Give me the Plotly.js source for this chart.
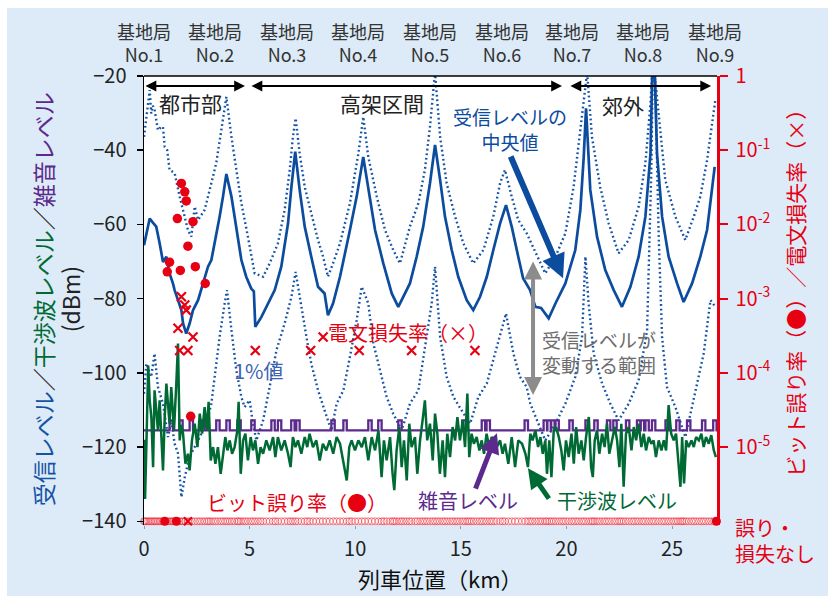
<!DOCTYPE html>
<html><head><meta charset="utf-8">
<script src="https://cdn.plot.ly/plotly-3.0.1.min.js"></script>
<style>html,body{margin:0;padding:0;background:#fff;}#chart{position:absolute;left:7px;top:8px;width:821px;height:588px;}</style>
</head><body><div id="chart"></div><script>
// ---------- data ----------
const stationKm = [0, 3.37, 6.77, 10.13, 13.54, 16.95, 20.27, 23.63, 27.03];
const stationName = ["基地局","基地局","基地局","基地局","基地局","基地局","基地局","基地局","基地局"];
const stationNo = ["No.1","No.2","No.3","No.4","No.5","No.6","No.7","No.8","No.9"];

const medianKm = [0.00,0.27,0.42,0.58,0.74,0.90,1.06,1.21,1.37,1.45,1.61,1.77,1.85,2.00,2.16,2.32,2.56,2.79,3.03,3.19,3.35,3.58,3.74,3.90,4.14,4.30,4.45,4.61,4.84,5.08,5.20,5.27,5.56,5.87,6.19,6.50,6.82,6.98,7.16,7.37,7.61,7.92,8.24,8.55,8.71,8.95,9.28,9.75,10.07,10.38,10.62,10.94,11.33,11.73,12.04,12.28,12.59,12.91,13.22,13.54,13.78,14.02,14.25,14.57,14.88,15.28,15.59,15.91,16.23,16.54,16.86,17.14,17.41,17.72,17.95,18.28,18.53,18.80,19.00,19.16,19.48,19.95,20.42,20.66,20.82,20.93,21.13,21.45,21.84,22.24,22.63,23.03,23.42,23.74,23.98,24.08,24.16,24.29,24.53,24.84,25.24,25.55,25.95,26.34,26.66,27.02];
const medianDb = [-65.6,-58.4,-59.5,-60.6,-65.1,-70.1,-68.7,-73.2,-75.9,-77.7,-80.4,-83.1,-86.7,-89.4,-86.7,-83.1,-80.4,-75.9,-71.4,-69.6,-65.1,-57.9,-52.5,-46.4,-52.5,-58.8,-63.3,-69.6,-74.1,-77.3,-78.0,-87.6,-84.9,-81.3,-77.7,-71.4,-59.7,-49.9,-40.4,-50.7,-60.6,-68.7,-76.8,-78.6,-84.5,-81.3,-74.1,-61.5,-52.5,-41.8,-50.7,-61.5,-70.5,-78.6,-82.2,-79.5,-75.9,-68.7,-60.6,-48.9,-38.6,-48.0,-57.9,-66.9,-74.1,-80.4,-83.1,-79.5,-74.1,-66.9,-59.7,-54.8,-60.6,-68.7,-74.5,-77.7,-82.2,-82.5,-84.0,-85.3,-81.3,-75.9,-66.9,-56.1,-41.8,-28.7,-50.7,-63.3,-72.3,-77.7,-82.2,-76.8,-68.7,-57.9,-40.9,-15,-15,-40.9,-57.9,-68.7,-75.9,-80.9,-75.9,-68.7,-61.5,-44.5];

const upperKm = [0.00,0.27,0.34,0.42,0.50,0.66,0.82,0.90,0.98,1.10,1.21,1.45,1.69,1.93,2.08,2.24,2.40,2.56,2.87,3.11,3.42,3.66,3.90,4.14,4.37,4.61,4.92,5.24,5.48,5.64,5.95,6.34,6.66,6.90,7.05,7.18,7.37,7.61,7.92,8.24,8.48,8.71,8.95,9.28,9.75,10.15,10.38,10.62,11.02,11.41,11.80,12.12,12.59,12.99,13.30,13.54,13.78,14.02,14.33,14.73,15.12,15.59,16.07,16.54,16.86,17.09,17.41,17.72,18.12,18.53,19.00,19.48,19.95,20.34,20.58,20.82,20.98,21.21,21.60,22.00,22.47,22.95,23.42,23.74,23.98,24.10,24.37,24.68,25.16,25.63,26.03,26.34,26.66,27.05];
const upperDb = [-36.4,-23.8,-30.1,-28.0,-29.0,-34.6,-33.7,-33.7,-39.1,-40.0,-45.3,-46.2,-52.5,-57.9,-61.5,-63.3,-55.2,-58.8,-56.1,-50.7,-43.5,-34.6,-25.6,-36.4,-45.3,-54.3,-63.3,-73.2,-73.7,-74.1,-70.5,-65.1,-56.1,-45.3,-36.4,-31.4,-40.9,-49.9,-57.0,-64.2,-68.7,-74.1,-70.5,-65.1,-54.3,-40.9,-31.0,-41.8,-52.5,-61.5,-66.9,-70.5,-60.6,-54.3,-45.3,-33.7,-19,-36.4,-48.9,-57.9,-65.1,-70.5,-66.9,-57.9,-48.9,-45.3,-52.5,-58.8,-62.4,-67.4,-73.2,-68.7,-62.4,-49.9,-38.2,-25.6,-19,-36.4,-49.9,-59.7,-67.8,-64.2,-55.2,-43.5,-27.4,-15,-30.1,-48.0,-57.9,-64.2,-57.9,-52.5,-42.7,-26.5];

const lowerKm = [0.00,0.11,0.34,0.50,0.66,0.90,1.14,1.29,1.45,1.61,1.77,1.93,2.08,2.24,2.48,2.71,2.95,3.19,3.35,3.58,3.82,3.93,4.14,4.37,4.61,4.76,5.00,5.16,5.32,5.64,5.95,6.27,6.66,6.98,7.18,7.37,7.69,7.92,8.24,8.55,8.87,9.12,9.44,9.75,10.07,10.31,10.62,10.86,11.17,11.49,11.80,12.20,12.59,12.99,13.38,13.62,13.78,14.02,14.33,14.65,15.04,15.44,15.83,16.23,16.62,16.94,17.14,17.49,17.80,18.12,18.29,18.61,19.00,19.48,19.95,20.42,20.74,20.90,21.05,21.29,21.69,22.08,22.47,22.95,23.42,23.82,24.02,24.10,24.20,24.37,24.53,24.76,25.16,25.63,26.03,26.50,26.82,27.05];
const lowerDb = [-105.6,-97.5,-101.1,-94.8,-103.8,-108.3,-117.3,-112.8,-119.1,-121.7,-133.5,-128.1,-124.5,-121.7,-119.1,-116.4,-113.7,-108.3,-101.1,-90.3,-81.3,-77.7,-88.5,-99.3,-106.5,-109.2,-107.4,-113.7,-118.2,-112.8,-103.8,-93.9,-86.7,-79.5,-72.8,-79.5,-90.3,-97.5,-104.7,-110.1,-115.5,-108.3,-104.7,-95.7,-85.8,-76.8,-81.3,-92.1,-99.3,-106.5,-111.0,-115.5,-108.3,-104.7,-90.3,-81.3,-71.4,-90.3,-101.1,-106.5,-110.1,-113.7,-106.5,-102.9,-94.8,-88.5,-84.0,-94.8,-101.1,-103.8,-108.3,-112.8,-118.2,-113.7,-108.3,-101.1,-90.3,-68.7,-81.3,-94.8,-102.9,-108.3,-112.8,-108.3,-102.0,-88.5,-45.3,-15,-20,-63.3,-90.3,-103.8,-109.2,-117.3,-106.5,-94.8,-80.4,-82.2];

const interfKm = [0.00,0.05,0.12,0.20,0.27,0.35,0.43,0.50,0.58,0.66,0.74,0.82,0.90,0.98,1.06,1.13,1.21,1.29,1.36,1.42,1.53,1.61,1.69,1.77,1.85,1.96,2.08,2.16,2.27,2.40,2.53,2.64,2.75,2.87,2.98,3.06,3.16,3.27,3.38,3.50,3.63,3.74,3.85,3.95,4.06,4.17,4.29,4.42,4.48,4.58,4.69,4.80,4.92,5.05,5.16,5.27,5.40,5.52,5.64,5.79,5.95,6.11,6.22,6.34,6.50,6.66,6.82,6.94,7.05,7.17,7.29,7.45,7.61,7.73,7.84,8.00,8.16,8.32,8.47,8.63,8.79,8.96,9.12,9.28,9.44,9.60,9.72,9.83,9.99,10.15,10.31,10.46,10.62,10.78,10.94,11.10,11.25,11.36,11.49,11.65,11.77,11.85,11.96,12.09,12.20,12.31,12.44,12.56,12.67,12.83,12.94,13.07,13.19,13.30,13.41,13.54,13.67,13.78,13.89,14.01,14.14,14.25,14.36,14.49,14.61,14.73,14.84,14.96,15.09,15.20,15.31,15.40,15.51,15.62,15.75,15.88,15.99,16.10,16.22,16.35,16.46,16.57,16.70,16.86,16.98,17.09,17.25,17.41,17.57,17.72,17.90,18.06,18.18,18.29,18.40,18.53,18.66,18.77,18.88,19.00,19.08,19.19,19.29,19.40,19.51,19.64,19.76,19.87,19.98,20.11,20.24,20.35,20.46,20.58,20.71,20.82,20.93,21.06,21.17,21.25,21.34,21.45,21.56,21.69,21.81,21.92,22.03,22.16,22.29,22.40,22.51,22.60,22.71,22.82,22.95,23.08,23.19,23.30,23.42,23.55,23.66,23.77,23.90,24.02,24.13,24.24,24.37,24.50,24.61,24.72,24.84,24.96,25.08,25.19,25.29,25.40,25.48,25.57,25.67,25.79,25.92,26.03,26.14,26.27,26.39,26.50,26.61,26.74,26.86,26.98,27.08];
const interfDb = [-118,-134,-118,-98,-107.4,-112,-125.4,-104.7,-110,-115.5,-107.4,-118,-126.3,-112,-102.9,-108,-113.7,-103.8,-110,-115.5,-102.9,-92.1,-118.2,-114,-116.4,-124.5,-121.8,-126.3,-118.2,-113.7,-120,-111,-116.4,-109.2,-115.5,-107.8,-123.6,-120,-124.5,-120,-127.2,-121.8,-117.3,-120.9,-118.2,-121.8,-120,-115.5,-107.8,-127.2,-118.2,-116.4,-123.6,-117.3,-120.9,-118.2,-124.5,-120,-121.8,-118.2,-120.9,-117.3,-122.7,-117.3,-120.9,-118.2,-121.8,-125.4,-117.3,-120,-118.2,-121.8,-117.3,-120,-116.4,-120,-118.2,-123.6,-119.1,-120.9,-118.2,-121.8,-117.3,-119.1,-123.6,-129,-120,-118.2,-120.9,-118.2,-120,-117.3,-123.6,-117.3,-120.9,-115.5,-128.1,-118.2,-123.6,-117.3,-127.2,-131.6,-120.9,-114.6,-125.4,-118.2,-129,-113.7,-120,-117.3,-127.2,-118.2,-112.8,-107.4,-118.2,-113.7,-123.6,-111,-116.4,-127.2,-118.2,-128.1,-116.4,-122.7,-114.6,-118.2,-111.9,-118.2,-112.8,-120,-105.6,-122.7,-116.4,-119.1,-117.3,-120.9,-118.2,-121.8,-116.4,-120,-117.3,-118.2,-120,-118.2,-121.8,-119.1,-124.5,-117.3,-125.4,-118.2,-119.1,-121.8,-125.4,-116.4,-118.2,-115.5,-120,-117.3,-121.8,-118.2,-127.2,-118.2,-128.1,-115.5,-114.6,-117.3,-120.9,-126.3,-118.2,-122.7,-116.4,-124.5,-114.6,-121.8,-118.2,-123.6,-117.3,-111.9,-125.4,-128.1,-118.2,-115.5,-121.8,-116.4,-120,-113.7,-121.8,-118.2,-114.6,-118.2,-125.4,-113.7,-130.7,-116.4,-114.6,-120.9,-114.6,-118.2,-113.7,-120,-116.4,-120.9,-117.3,-119.1,-118.2,-122.7,-118.2,-120.9,-118.2,-120.9,-108.7,-116.4,-118.2,-116.4,-122.7,-130.7,-117.3,-129.8,-118.2,-120,-118.2,-120,-117.3,-118.2,-116.4,-120,-117.3,-119.1,-116.8,-120.9,-122.7];

const noiseKm = [0,1.21,1.37,1.67,1.83,2.16,2.32,2.71,2.87,3.42,3.58,3.90,4.06,4.42,4.58,5.08,5.24,6.03,6.19,6.34,6.50,6.97,7.13,7.21,7.37,8.87,9.03,9.44,9.60,10.62,10.78,11.09,11.25,12.04,12.20,15.07,15.23,15.99,16.15,16.22,16.38,18.02,18.18,18.92,19.08,19.10,19.26,19.28,19.44,19.48,19.64,20.14,20.30,20.90,21.06,21.32,21.48,21.92,22.08,22.22,22.38,22.82,22.98,23.34,23.50,23.52,23.68,23.74,23.90,24.05,24.21,24.69,24.85,25.20,25.36,25.71,25.87,26.42,26.58,26.95,27.11,27.13];
const noiseDb = [-115.5,-112.8,-115.5,-112.8,-115.5,-112.8,-115.5,-112.8,-115.5,-112.8,-115.5,-112.8,-115.5,-112.8,-115.5,-112.8,-115.5,-112.8,-115.5,-112.8,-115.5,-112.8,-115.5,-112.8,-115.5,-112.8,-115.5,-112.8,-115.5,-112.8,-115.5,-112.8,-115.5,-112.8,-115.5,-112.8,-115.5,-112.8,-115.5,-112.8,-115.5,-112.8,-115.5,-112.8,-115.5,-112.8,-115.5,-112.8,-115.5,-112.8,-115.5,-112.8,-115.5,-112.8,-115.5,-112.8,-115.5,-112.8,-115.5,-112.8,-115.5,-112.8,-115.5,-112.8,-115.5,-112.8,-115.5,-112.8,-115.5,-112.8,-115.5,-112.8,-115.5,-112.8,-115.5,-112.8,-115.5,-112.8,-115.5,-112.8,-115.5,-115.5];

const berKm = [1.77,1.93,2.00,1.58,2.32,2.08,1.21,1.10,1.72,2.43,2.90,2.21];
const berRate = [3.57e-2,2.75e-2,2.07e-2,1.2e-2,1.09e-2,5.1e-3,3.1e-3,2.3e-3,2.4e-3,2.7e-3,1.6e-3,2.6e-5];
const lossKm = [1.77,1.93,2.00,1.61,2.32,1.69,2.08,5.27,7.89,8.48,10.19,12.67,15.67];
const lossRate = [1.06e-3,8.2e-4,7.0e-4,4.0e-4,3.05e-4,2.0e-4,2.0e-4,2.0e-4,2.0e-4,3.05e-4,2.0e-4,2.0e-4,2.0e-4];
const noErrKm = interfKm;            // samples with no error / no loss
const noErrLevel = 1e-6;             // plotted on the "誤り・損失なし" floor
const floorDotKm = [0.98, 1.53, 27.10];
const floorCrossKm = [2.08];

const yTicks = [-140,-120,-100,-80,-60,-40,-20];
const xTicks = [0,5,10,15,20,25];
const rTicks = [1e-5,1e-4,1e-3,1e-2,1e-1,1];
const rTickText = ["10<sup>-5</sup>","10<sup>-4</sup>","10<sup>-3</sup>","10<sup>-2</sup>","10<sup>-1</sup>","1"];

// ---------- styles ----------
const RED = "#e60012", BLUE = "#0c4c9e", DBLUE = "#1553a6", GREEN = "#006a35", PURPLE = "#5b2a8c", GRAY = "#8c8c8c";
const FONT = "Noto Sans CJK JP, Noto Sans, sans-serif";

const traces = [
  {x: upperKm, y: upperDb, mode: "lines", line: {color: DBLUE, width: 2.4, dash: "1.8px,2.8px"}},
  {x: lowerKm, y: lowerDb, mode: "lines", line: {color: DBLUE, width: 2.4, dash: "1.8px,2.8px"}},
  {x: medianKm, y: medianDb, mode: "lines", line: {color: BLUE, width: 2.7}},
  {x: noiseKm, y: noiseDb, mode: "lines", line: {color: PURPLE, width: 2.3, shape: "hv"}},
  {x: interfKm, y: interfDb, mode: "lines", line: {color: GREEN, width: 2.5}},
  {x: noErrKm, y: noErrKm.map(() => noErrLevel), yaxis: "y2", mode: "markers", cliponaxis: false,
   marker: {symbol: "circle-open", size: 7, color: RED, opacity: 0.55, line: {width: 0.8, color: RED}}},
  {x: floorDotKm, y: floorDotKm.map(() => noErrLevel), yaxis: "y2", mode: "markers", cliponaxis: false,
   marker: {symbol: "circle", size: 9, color: RED}},
  {x: floorCrossKm, y: floorCrossKm.map(() => noErrLevel), yaxis: "y2", mode: "markers", cliponaxis: false,
   marker: {symbol: "x-thin-open", size: 8, color: RED, line: {width: 2, color: RED}}},
  {x: lossKm, y: lossRate, yaxis: "y2", mode: "markers",
   marker: {symbol: "x-thin-open", size: 9, color: RED, line: {width: 2.2, color: RED}}},
  {x: berKm, y: berRate, yaxis: "y2", mode: "markers",
   marker: {symbol: "circle", size: 9.5, color: RED}}
];

function txt(text, x, y, color, size, extra) {
  return Object.assign({text: text, x: x, y: y, xref: "x", yref: "y", showarrow: false,
    xanchor: "center", yanchor: "middle",
    font: {family: FONT, size: size, color: color}}, extra || {});
}
function ptxt(text, x, y, color, size, extra) {
  return Object.assign({text: text, x: x, y: y, xref: "paper", yref: "paper", showarrow: false,
    xanchor: "center", yanchor: "middle",
    font: {family: FONT, size: size, color: color}}, extra || {});
}
function arrow(x, y, ax, ay, color, w, size, both) {
  const a = {text: "", x: x, y: y, ax: ax, ay: ay, xref: "x", yref: "y", axref: "x", ayref: "y",
    showarrow: true, arrowhead: 2, arrowsize: size, arrowwidth: w, arrowcolor: color, standoff: 0, startstandoff: 0};
  if (both) { a.arrowside = "end+start"; a.startarrowhead = 2; a.startarrowsize = size; }
  return a;
}

const ann = [];
stationKm.forEach((k, i) => {
  ann.push({text: stationName[i] + "<br>" + stationNo[i], x: k, xref: "x", y: 1.0735, yref: "paper", showarrow: false,
    xanchor: "center", yanchor: "middle", font: {family: FONT, size: 18, color: "#333"}});
});
// region arrows & labels
ann.push(arrow(4.78, -22.7, 0, -22.7, "#000", 1.8, 1.2, true));
ann.push(arrow(19.79, -22.7, 5.02, -22.7, "#000", 1.8, 1.2, true));
ann.push(arrow(26.85, -22.7, 20.12, -22.7, "#000", 1.8, 1.2, true));
ann.push(txt("都市部", 2.18, -27.3, "#222", 21));
ann.push(txt("高架区間", 11.27, -27.3, "#222", 21));
ann.push(txt("郊外", 22.68, -27.8, "#222", 21));
// callouts
ann.push(txt("受信レベルの<br>中央値", 17.33, -34.4, BLUE, 19));
ann.push(arrow(19.84, -74.5, 17.33, -41.3, BLUE, 6, 0.8, false));
ann.push(txt("1%値", 5.45, -99.3, "#3d62b0", 20));
ann.push(txt("電文損失率（×）", 12.5, -89.0, RED, 20));
ann.push(txt("ビット誤り率（●）", 7.24, -134.9, RED, 20));
ann.push(txt("雑音レベル", 15.34, -134.3, PURPLE, 20));
ann.push(txt("干渉波レベル", 22.4, -134.3, GREEN, 20));
ann.push(arrow(16.71, -116.3, 15.67, -131.6, PURPLE, 5, 0.8, false));
ann.push(arrow(18.18, -125.7, 19.22, -134.3, GREEN, 5, 0.8, false));
ann.push(arrow(18.42, -106.0, 18.42, -69.6, GRAY, 4, 0.9, true));
ann.push(txt("受信レベルが<br>変動する範囲", 18.75, -94.4, "#6d6d6d", 19, {xanchor: "left", align: "left"}));
// axis titles
ann.push(ptxt('<span style="color:#1553a6">受信レベル</span>／<span style="color:#006a35">干渉波レベル</span>／<span style="color:#5b2a8c">雑音レベル</span>',
  -0.176, 0.503, "#222", 23, {textangle: -90}));
ann.push(ptxt("(dBm)", -0.129, 0.503, "#222", 23, {textangle: -90}));
ann.push(ptxt("ビット誤り率（●）／電文損失率（×）", 1.136, 0.528, RED, 21, {textangle: -90}));
ann.push(ptxt("誤り・<br>損失なし", 1.028, -0.034, RED, 20, {xanchor: "left", align: "left"}));
ann.push(ptxt("列車位置（km）", 0.517, -0.118, "#111", 22));

const layout = {
  width: 821, height: 588,
  margin: {l: 137, r: 111, t: 68, b: 71},
  paper_bgcolor: "#ddebf8", plot_bgcolor: "#ffffff",
  showlegend: false,
  font: {family: FONT, color: "#222"},
  xaxis: {range: [0, 27.13], tickvals: xTicks, ticks: "outside", ticklen: 3, tickcolor: "#999",
    showline: false, showgrid: false, zeroline: false, tickfont: {size: 20, color: "#222"}, ticklabelstandoff: 3},
  yaxis: {range: [-141, -20], tickvals: yTicks, ticks: "outside", ticklen: 6, tickwidth: 1.5, tickcolor: "#000",
    showline: true, linecolor: "#000", linewidth: 1.5, showgrid: false, zeroline: false,
    tickfont: {size: 20, color: "#222"}, ticklabelstandoff: 6},
  yaxis2: {type: "log", range: [-6.05, 0], overlaying: "y", side: "right", tickvals: rTicks, ticktext: rTickText,
    ticks: "outside", ticklen: 8, tickwidth: 2, tickcolor: RED, showline: true, linecolor: RED, linewidth: 2.5,
    showgrid: false, zeroline: false, tickfont: {size: 20, color: RED}, ticklabelstandoff: 4},
  shapes: [{type: "line", xref: "paper", yref: "paper", x0: 0, x1: 1, y0: 1, y1: 1, line: {color: "#000", width: 1.5}}],
  annotations: ann
};

Plotly.newPlot("chart", traces, layout, {displayModeBar: false, staticPlot: true});
</script></body></html>
